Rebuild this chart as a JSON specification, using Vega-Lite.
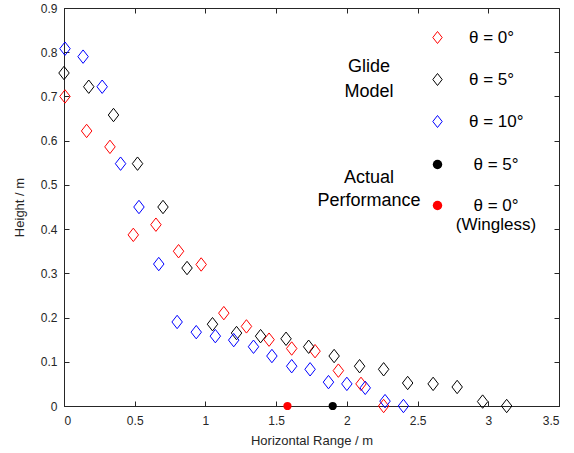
{
  "$schema": "https://vega.github.io/schema/vega-lite/v6.json",
  "width": 495,
  "height": 398,
  "autosize": "none",
  "padding": {"left": 64, "top": 8, "right": 15, "bottom": 47},
  "background": "white",
  "config": {
    "view": {"stroke": "#262626", "strokeWidth": 1},
    "font": "Liberation Sans",
    "axis": {
      "grid": false,
      "domainColor": "#262626",
      "tickColor": "#262626",
      "labelColor": "#262626",
      "titleColor": "#262626",
      "labelFont": "Liberation Sans",
      "titleFont": "Liberation Sans",
      "labelFontSize": 12,
      "titleFontSize": 13,
      "titleFontWeight": "normal",
      "tickSize": -5,
      "domainWidth": 1,
      "tickWidth": 1
    },
    "legend": {
      "labelFont": "Liberation Sans",
      "titleFont": "Liberation Sans",
      "labelFontSize": 17,
      "titleFontSize": 18,
      "titleFontWeight": "normal",
      "labelColor": "#000000",
      "titleColor": "#000000"
    }
  },
  "datasets": {
    "model": [
      {"x": 0.007, "y": 0.70, "series": "θ = 0°"},
      {"x": 0.16, "y": 0.622, "series": "θ = 0°"},
      {"x": 0.325, "y": 0.586, "series": "θ = 0°"},
      {"x": 0.49, "y": 0.387, "series": "θ = 0°"},
      {"x": 0.65, "y": 0.41, "series": "θ = 0°"},
      {"x": 0.81, "y": 0.35, "series": "θ = 0°"},
      {"x": 0.97, "y": 0.32, "series": "θ = 0°"},
      {"x": 1.13, "y": 0.21, "series": "θ = 0°"},
      {"x": 1.29, "y": 0.18, "series": "θ = 0°"},
      {"x": 1.45, "y": 0.15, "series": "θ = 0°"},
      {"x": 1.61, "y": 0.13, "series": "θ = 0°"},
      {"x": 1.775, "y": 0.124, "series": "θ = 0°"},
      {"x": 1.94, "y": 0.08, "series": "θ = 0°"},
      {"x": 2.10, "y": 0.05, "series": "θ = 0°"},
      {"x": 2.26, "y": 0.0, "series": "θ = 0°"},
      {"x": 0.0, "y": 0.753, "series": "θ = 5°"},
      {"x": 0.175, "y": 0.722, "series": "θ = 5°"},
      {"x": 0.35, "y": 0.658, "series": "θ = 5°"},
      {"x": 0.52, "y": 0.548, "series": "θ = 5°"},
      {"x": 0.70, "y": 0.45, "series": "θ = 5°"},
      {"x": 0.87, "y": 0.312, "series": "θ = 5°"},
      {"x": 1.05, "y": 0.185, "series": "θ = 5°"},
      {"x": 1.22, "y": 0.165, "series": "θ = 5°"},
      {"x": 1.39, "y": 0.158, "series": "θ = 5°"},
      {"x": 1.57, "y": 0.152, "series": "θ = 5°"},
      {"x": 1.73, "y": 0.134, "series": "θ = 5°"},
      {"x": 1.91, "y": 0.113, "series": "θ = 5°"},
      {"x": 2.09, "y": 0.09, "series": "θ = 5°"},
      {"x": 2.26, "y": 0.083, "series": "θ = 5°"},
      {"x": 2.43, "y": 0.052, "series": "θ = 5°"},
      {"x": 2.61, "y": 0.05, "series": "θ = 5°"},
      {"x": 2.78, "y": 0.043, "series": "θ = 5°"},
      {"x": 2.96, "y": 0.01, "series": "θ = 5°"},
      {"x": 3.13, "y": 0.0, "series": "θ = 5°"},
      {"x": 0.007, "y": 0.808, "series": "θ = 10°"},
      {"x": 0.135, "y": 0.79, "series": "θ = 10°"},
      {"x": 0.27, "y": 0.722, "series": "θ = 10°"},
      {"x": 0.40, "y": 0.548, "series": "θ = 10°"},
      {"x": 0.53, "y": 0.45, "series": "θ = 10°"},
      {"x": 0.67, "y": 0.321, "series": "θ = 10°"},
      {"x": 0.80, "y": 0.19, "series": "θ = 10°"},
      {"x": 0.935, "y": 0.167, "series": "θ = 10°"},
      {"x": 1.07, "y": 0.158, "series": "θ = 10°"},
      {"x": 1.20, "y": 0.149, "series": "θ = 10°"},
      {"x": 1.34, "y": 0.134, "series": "θ = 10°"},
      {"x": 1.47, "y": 0.113, "series": "θ = 10°"},
      {"x": 1.61, "y": 0.09, "series": "θ = 10°"},
      {"x": 1.74, "y": 0.083, "series": "θ = 10°"},
      {"x": 1.87, "y": 0.054, "series": "θ = 10°"},
      {"x": 2.00, "y": 0.05, "series": "θ = 10°"},
      {"x": 2.13, "y": 0.041, "series": "θ = 10°"},
      {"x": 2.27, "y": 0.011, "series": "θ = 10°"},
      {"x": 2.40, "y": 0.0, "series": "θ = 10°"}
    ],
    "actual": [
      {"x": 1.90, "y": 0.0, "series": "θ = 5°"},
      {"x": 1.58, "y": 0.0, "series": "θ = 0°|(Wingless)"}
    ]
  },
  "layer": [
    {
      "data": {"name": "model"},
      "mark": {"type": "point", "shape": "M0,-1L0.78,0L0,1L-0.78,0Z", "filled": false, "size": 180, "strokeWidth": 1, "opacity": 1},
      "encoding": {
        "x": {"field": "x", "type": "quantitative", "scale": {"domain": [0, 3.5], "nice": false, "zero": false},
          "axis": {"orient": "bottom", "values": [0, 0.5, 1, 1.5, 2, 2.5, 3, 3.5], "format": "~g", "title": "Horizontal Range / m", "labelPadding": 14, "titlePadding": 8}},
        "y": {"field": "y", "type": "quantitative", "scale": {"domain": [0, 0.9], "nice": false, "zero": false},
          "axis": {"orient": "left", "values": [0, 0.1, 0.2, 0.3, 0.4, 0.5, 0.6, 0.7, 0.8, 0.9], "format": "~g", "title": "Height / m", "labelPadding": 12, "titlePadding": 14}},
        "color": {"field": "series", "type": "nominal",
          "scale": {"domain": ["θ = 0°", "θ = 5°", "θ = 10°"], "range": ["#ff0000", "#000000", "#0000ff"]},
          "legend": {"orient": "none", "legendX": 280, "legendY": 21, "title": ["Glide", "Model"], "titleOrient": "left", "titleAnchor": "middle", "titleAlign": "center", "titleBaseline": "middle", "titlePadding": 10, "titleLineHeight": 25, "symbolType": "M0,-1L0.78,0L0,1L-0.78,0Z", "symbolSize": 144, "symbolStrokeWidth": 1, "labelOffset": 23, "rowPadding": 24,
            "encode": {"title": {"enter": {"dy": {"value": 4}}, "update": {"dy": {"value": 4}}}}}}
      }
    },
    {
      "data": {"name": "actual"},
      "mark": {"type": "circle", "size": 68, "opacity": 1},
      "encoding": {
        "x": {"field": "x", "type": "quantitative",
          "axis": {"orient": "top", "values": [0, 0.5, 1, 1.5, 2, 2.5, 3, 3.5], "labels": false, "title": null, "domain": false}},
        "y": {"field": "y", "type": "quantitative",
          "axis": {"orient": "right", "values": [0, 0.1, 0.2, 0.3, 0.4, 0.5, 0.6, 0.7, 0.8, 0.9], "labels": false, "title": null, "domain": false}},
        "color": {"field": "series", "type": "nominal",
          "scale": {"domain": ["θ = 5°", "θ = 0°|(Wingless)"], "range": ["#000000", "#ff0000"]},
          "legend": {"orient": "none", "legendX": 253, "legendY": 148, "title": ["Actual", "Performance"], "titleOrient": "left", "titleAnchor": "middle", "titleAlign": "center", "titleBaseline": "alphabetic", "titlePadding": -44, "titleLineHeight": 23, "symbolType": "circle", "symbolSize": 90, "labelOffset": 50, "labelAlign": "center", "rowPadding": 23, "labelExpr": "split(datum.label, '|')"}}
      }
    }
  ],
  "resolve": {"scale": {"color": "independent"}, "legend": {"color": "independent"}, "axis": {"x": "independent", "y": "independent"}}
}
